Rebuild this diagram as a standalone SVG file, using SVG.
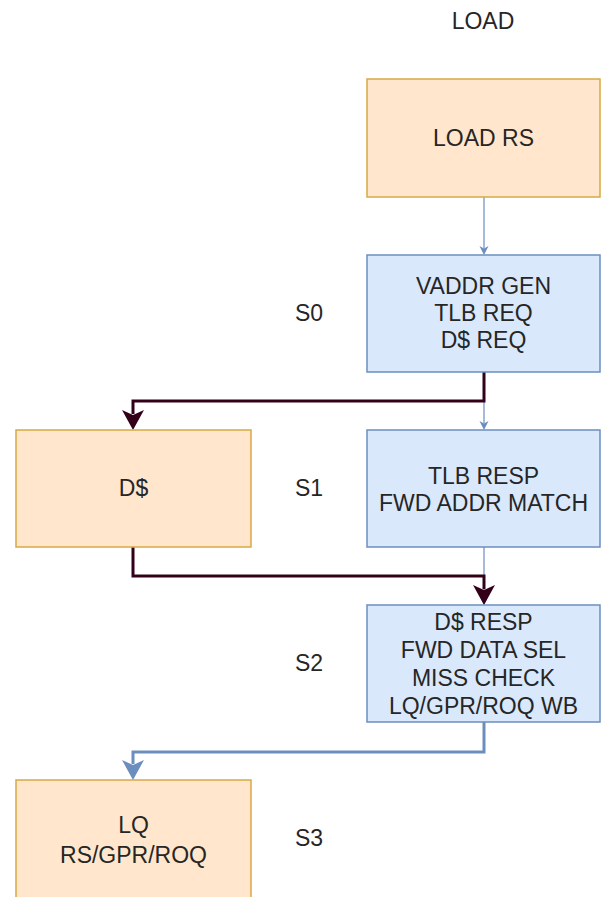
<svg xmlns="http://www.w3.org/2000/svg" width="601" height="897" viewBox="0 0 601 897">
  <style>
    .orange { fill: #ffe6cc; stroke: #d6a944; stroke-width: 1.5; }
    .blue { fill: #dae8fc; stroke: #6c8ebf; stroke-width: 1.5; }
    text { font-family: "Liberation Sans", Arial, sans-serif; font-size: 23px; fill: #262626; text-anchor: middle; }
    .thin { fill: none; stroke: #6c8ebf; stroke-width: 1.2; }
    .dark { fill: none; stroke: #33001a; stroke-width: 3; stroke-linejoin: miter; }
    .bthick { fill: none; stroke: #6c8ebf; stroke-width: 3; stroke-linejoin: miter; }
  </style>
  <defs>
    <marker id="hThin" markerUnits="userSpaceOnUse" markerWidth="10" markerHeight="10" viewBox="0 0 10 10" refX="2.5" refY="4.5" orient="auto">
      <path d="M0,0 L9,4.5 L0,9 L2.5,4.5 Z" fill="#6c8ebf"/>
    </marker>
    <marker id="hDark" markerUnits="userSpaceOnUse" markerWidth="22" markerHeight="22" viewBox="0 0 22 22" refX="4" refY="11" orient="auto">
      <path d="M0,0 L20,11 L0,22 L5,11 Z" fill="#33001a"/>
    </marker>
    <marker id="hBlue" markerUnits="userSpaceOnUse" markerWidth="22" markerHeight="22" viewBox="0 0 22 22" refX="4" refY="11" orient="auto">
      <path d="M0,0 L20,11 L0,22 L5,11 Z" fill="#6c8ebf"/>
    </marker>
  </defs>

  <g id="title"><text x="483" y="29">LOAD</text></g>
  <g id="s0"><text x="309" y="321">S0</text></g>
  <g id="s1"><text x="309" y="496">S1</text></g>
  <g id="s2"><text x="309" y="671">S2</text></g>
  <g id="s3"><text x="309" y="846">S3</text></g>

  <g id="connectors">
    <path class="thin" d="M484,197 V248.5" marker-end="url(#hThin)"/>
    <path class="thin" d="M484,372 V423.5" marker-end="url(#hThin)"/>
    <path class="thin" d="M484,547 V598.5" marker-end="url(#hThin)"/>
    <path class="dark" d="M484,372 V401 H133 V414" marker-end="url(#hDark)"/>
    <path class="dark" d="M133,547 V576 H484 V589" marker-end="url(#hDark)"/>
    <path class="bthick" d="M484,722 V752 H133 V764" marker-end="url(#hBlue)"/>
  </g>

  <g id="load-rs">
    <rect class="orange" x="367" y="79" width="233" height="118"/>
    <text x="483.5" y="146">LOAD RS</text>
  </g>
  <g id="vaddr-gen">
    <rect class="blue" x="367" y="255" width="233" height="117"/>
    <text x="483.5" y="294">VADDR GEN</text>
    <text x="483.5" y="321">TLB REQ</text>
    <text x="483.5" y="348">D$ REQ</text>
  </g>
  <g id="dcache">
    <rect class="orange" x="16" y="430" width="235" height="117"/>
    <text x="133.5" y="496">D$</text>
  </g>
  <g id="tlb-resp">
    <rect class="blue" x="367" y="430" width="233" height="117"/>
    <text x="483.5" y="484">TLB RESP</text>
    <text x="483.5" y="511">FWD ADDR MATCH</text>
  </g>
  <g id="dcache-resp">
    <rect class="blue" x="367" y="605" width="233" height="117"/>
    <text x="483.5" y="629.5">D$ RESP</text>
    <text x="483.5" y="657.5">FWD DATA SEL</text>
    <text x="483.5" y="685.5">MISS CHECK</text>
    <text x="483.5" y="713.5">LQ/GPR/ROQ WB</text>
  </g>
  <g id="lq">
    <rect class="orange" x="16" y="780" width="235" height="125"/>
    <text x="133.5" y="833">LQ</text>
    <text x="133.5" y="863">RS/GPR/ROQ</text>
  </g>
</svg>
